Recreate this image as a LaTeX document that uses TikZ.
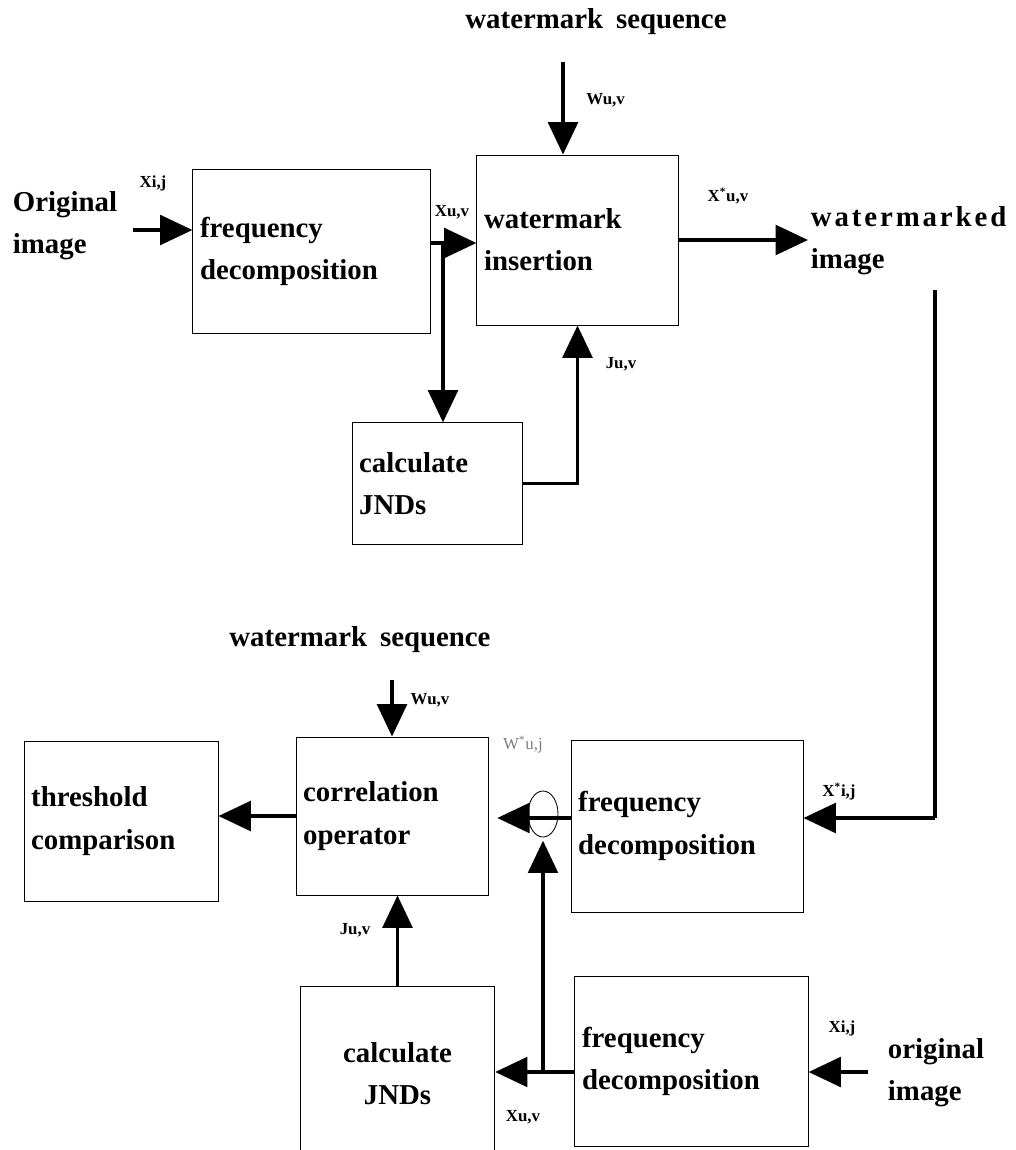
\documentclass[tikz,border=0pt]{standalone}
\usepackage{fontspec}
\setmainfont{Liberation Serif}
\usetikzlibrary{arrows.meta,shapes.geometric}
\newcommand{\bigtxt}{\fontsize{20.5}{30}\selectfont\bfseries}
\newcommand{\smalltxt}{\fontsize{12}{14}\selectfont\bfseries}

\begin{document}
\begin{tikzpicture}[x=0.025cm, y=-0.025cm]

\tikzstyle{every node} = [font=\bigtxt]
\tikzstyle{blk} = [draw, line width=0.6pt, inner xsep=0.18cm, inner ysep=0pt, align=left]
\tikzstyle{lbl} = [font=\smalltxt, inner sep=0pt]
\tikzstyle{flow} = [line width=2.8pt, -{Triangle[length=23pt,width=21pt]}]
\tikzstyle{wire} = [line width=2.8pt]

\useasboundingbox (0,0) rectangle (1016,1150);

% embedding
\node (s) at (596,22) {watermark\hspace{0.2em} sequence};
\node[anchor=west, align=left] (o) at (8,226) {Original\\image};
\node[blk, text width=5.57cm, minimum height=4.08cm] (f) at (311.5,251.5) {frequency\\decomposition};
\node[blk, text width=4.67cm, minimum height=4.25cm] (w) at (577.5,240) {watermark\\insertion};
\node[blk, text width=3.89cm, minimum height=3.03cm] (j) at (437,483.5) {calculate\\JNDs};
\node[anchor=west, align=left] (m) at (806,241) {{\addfontfeature{LetterSpace=10}watermarked}\\image};

\node[lbl] (l1) at (153,183) {Xi,j};
\node[lbl, anchor=west] (l2) at (586,100) {Wu,v};
\node[lbl] (l3) at (452,212) {Xu,v};
\node[lbl] (l4) at (621,364) {Ju,v};
\node[lbl] (l5) at (728,196) {X\textsuperscript{*}u,v};

\coordinate (a) at (133,230);
\coordinate (b) at (563,62);
\coordinate (x) at (443,243);
\coordinate (c) at (808,240);

\draw[flow] (b) -- (b |- w.north);
\draw[flow] (a) -- (a -| f.west);
\draw[flow] (x -| f.east) -- (x -| w.west);
\draw[flow] (x) -- (x |- j.north);
\draw[flow] (w.east) -- (c);
\draw[flow] (j.east) -| (w.south);

% detection
\node (s2) at (360,640) {watermark\hspace{0.2em} sequence};
\node[blk, text width=4.49cm, minimum height=4cm] (t) at (121,821) {threshold\\comparison};
\node[blk, text width=4.44cm, minimum height=3.95cm] (r) at (392,816) {correlation\\operator};
\node[blk, text width=5.44cm, minimum height=4.3cm] (g) at (687,826) {frequency\\decomposition};
\node[blk, text width=4.5cm, align=center, minimum height=4.33cm] (k) at (397.5,1073.5) {calculate\\JNDs};
\node[blk, text width=5.47cm, minimum height=4.25cm] (h) at (691.5,1061) {frequency\\decomposition};
\node[anchor=west, align=left] (q) at (883,1073) {original\\image};
\node[draw, ellipse, line width=0.6pt, minimum width=0.75cm, minimum height=1.15cm, inner sep=0pt] (e) at (543,814) {};

\node[lbl] (l6) at (839,792) {X\textsuperscript{*}i,j};
\node[lbl, text=gray, font=\fontsize{12}{14}\selectfont] (l7) at (523,745) {W\textsuperscript{*}u,j};
\node[lbl] (l8) at (430,700) {Wu,v};
\node[lbl] (l9) at (355,930) {Ju,v};
\node[lbl] (l10) at (523,1117) {Xu,v};
\node[lbl] (l11) at (842,1028) {Xi,j};

\coordinate (c1) at (935,290);
\coordinate (c2) at (935,818);
\coordinate (d) at (392,680);
\coordinate (y) at (543,1072);
\coordinate (p) at (868,1072);
\coordinate (z) at (543,818);

\draw[wire] (c1) -- (c2);
\draw[flow] (c2) -- (c2 -| g.east);
\draw[flow] (d) -- (d |- r.north);
\draw[flow] (r.west) -- (r.west -| t.east);
\draw[flow, shorten >=0.22cm] (z -| g.west) -- (z -| r.east);
\draw[flow, shorten >=0.08cm] (y) -- (e.south);
\draw[flow] (y -| h.west) -- (y -| k.east);
\draw[flow] (k.north) -- (k.north |- r.south);
\draw[flow] (p) -- (p -| h.east);
\end{tikzpicture}
\end{document}
